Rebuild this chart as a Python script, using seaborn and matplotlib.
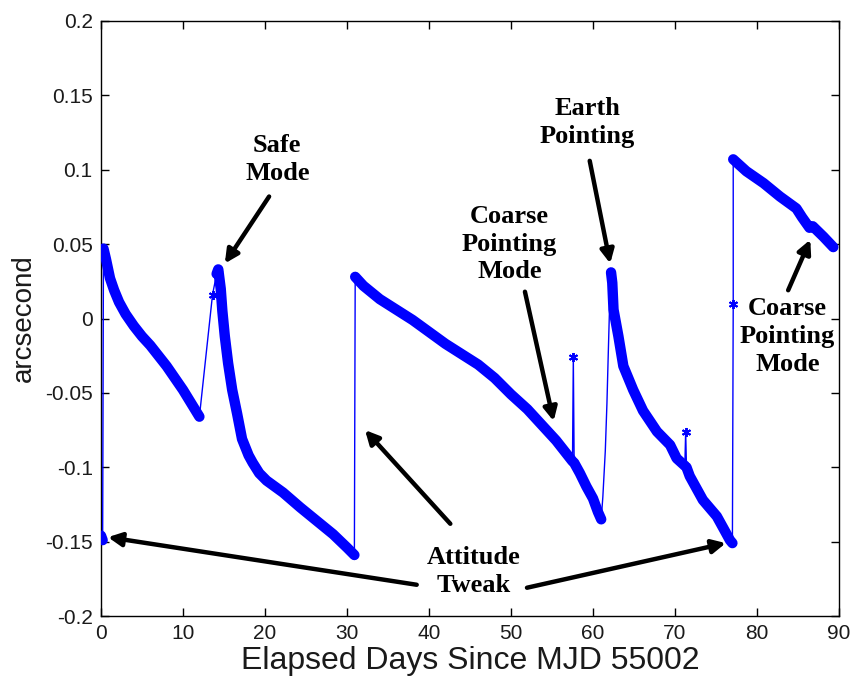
import numpy as np
import pandas as pd
import matplotlib
matplotlib.use("Agg")
import matplotlib.pyplot as plt
import seaborn as sns

# ---- data (elapsed days, arcsecond) ----
days = [0.0, 0.2,
        0.3, 0.6, 1.1, 1.6, 2.2, 3.0, 4.0, 5.0, 6.0, 7.0, 8.0, 9.0, 10.0, 11.0, 12.0,
        13.6,
        14.1, 14.3, 14.6, 14.8, 15.1, 15.5, 16.0, 16.6, 17.2, 18.0, 18.5, 19.3, 20.2,
        22.2, 24.3, 26.3, 28.3, 30.0, 30.9,
        31.0, 32.0, 34.0, 36.0, 38.0, 40.0, 42.0, 44.0, 46.0, 48.0, 50.0, 52.0, 54.0,
        55.5, 57.5,
        57.6,
        57.7, 58.4, 59.2, 60.0, 60.6, 61.0,
        61.2, 61.5, 61.7, 61.85, 62.0,
        62.2, 62.35, 62.5, 63.1, 63.7, 64.9, 66.1, 67.8, 69.4, 70.2, 71.2,
        71.3,
        71.4, 71.8, 73.4, 75.1, 76.0, 76.7, 77.0,
        77.1,
        77.1, 78.7, 80.8, 82.8, 84.8, 85.5, 86.4, 86.8, 88.1, 89.3]
arcsec = [-0.146, -0.149,
          0.047, 0.040, 0.027, 0.019, 0.011, 0.003, -0.005, -0.012, -0.018, -0.025,
          -0.032, -0.040, -0.048, -0.057, -0.066,
          0.016,
          0.030, 0.033, 0.020, 0.005, -0.012, -0.030, -0.048, -0.064, -0.081, -0.092,
          -0.097, -0.104, -0.109, -0.117, -0.127, -0.136, -0.145, -0.154, -0.159,
          0.028, 0.022, 0.013, 0.006, -0.001, -0.009, -0.017, -0.024, -0.031, -0.040,
          -0.051, -0.061, -0.073, -0.082, -0.096,
          -0.026,
          -0.097, -0.104, -0.113, -0.121, -0.130, -0.135,
          -0.120, -0.089, -0.057, -0.026, 0.004,
          0.031, 0.024, 0.006, -0.012, -0.032, -0.048, -0.062, -0.076, -0.085, -0.094,
          -0.099,
          -0.076,
          -0.100, -0.106, -0.122, -0.133, -0.142, -0.149, -0.151,
          0.0096,
          0.107, 0.099, 0.091, 0.082, 0.074, 0.068, 0.061, 0.062, 0.055, 0.048]
# run of consecutive dense samples each point belongs to (None = isolated sample)
run = ([0] * 2 + [1] * 15 + [None] + [2] * 19 + [3] * 15 + [None] + [4] * 6
       + [None] * 5 + [5] * 11 + [None] + [6] * 7 + [None] + [7] * 10)

x_ticks = [0, 10, 20, 30, 40, 50, 60, 70, 80, 90]
x_tick_labels = ["0", "10", "20", "30", "40", "50", "60", "70", "80", "90"]
y_ticks = [-0.2, -0.15, -0.1, -0.05, 0, 0.05, 0.1, 0.15, 0.2]
y_tick_labels = ["-0.2", "-0.15", "-0.1", "-0.05", "0", "0.05", "0.1", "0.15", "0.2"]

x_label = "Elapsed Days Since MJD 55002"
y_label = "arcsecond"

# annotations: text, text centre, arrows (tail -> head) in data units
notes = ["Safe\nMode", "Attitude\nTweak", "Coarse\nPointing\nMode",
         "Earth\nPointing", "Coarse\nPointing\nMode"]
note_xy = [(21.5, 0.107), (45.5, -0.170), (49.8, 0.050), (59.3, 0.132), (83.7, -0.012)]
arrow_tail = [(20.5, 0.082), (38.5, -0.179), (42.6, -0.138), (51.95, -0.181),
              (51.7, 0.018), (59.6, 0.106), (83.8, 0.019)]
arrow_head = [(15.1, 0.037), (0.85, -0.147), (32.2, -0.075), (76.2, -0.151),
              (55.2, -0.069), (62.1, 0.037), (86.5, 0.053)]

df = pd.DataFrame({"day": days, "arcsec": arcsec, "run": run})

# isolated samples that stand alone get a visible asterisk marker
iso = df["run"].isna()
lone = iso & ~iso.shift(1, fill_value=False) & ~iso.shift(-1, fill_value=False)
lone_idx = list(np.flatnonzero(lone.to_numpy()))

sns.set_style("ticks")
plt.rcParams["font.family"] = ["Liberation Sans", "DejaVu Sans"]
plt.rcParams["axes.unicode_minus"] = False

fig = plt.figure(figsize=(8.56, 6.84), dpi=100)
ax = fig.add_axes([101 / 856, 1 - 616 / 684, 738 / 856, 595 / 684])

# thin connecting line through every sample
sns.lineplot(data=df, x="day", y="arcsec", sort=False, estimator=None, ax=ax,
             color="#0000ff", lw=1.0, marker=(6, 2, 0), markersize=6.5,
             markevery=lone_idx, mec="#0000ff", mew=1.4, zorder=3)
# dense runs of samples drawn as a thick band
dense = df.dropna(subset=["run"])
sns.lineplot(data=dense, x="day", y="arcsec", units="run", sort=False,
             estimator=None, ax=ax, color="#0000ff", lw=7.5,
             solid_capstyle="round", solid_joinstyle="round", zorder=4)

ax.set_xlim(0, 90)
ax.set_ylim(-0.2, 0.2)
ax.set_xticks(x_ticks)
ax.set_xticklabels(x_tick_labels)
ax.set_yticks(y_ticks)
ax.set_yticklabels(y_tick_labels)
ax.tick_params(direction="in", length=6, width=1, labelsize=15, pad=6,
               top=True, right=True, colors="black", labelcolor="#1a1a1a")
for s in ax.spines.values():
    s.set_visible(True)
    s.set_color("black")
    s.set_linewidth(1.0)
ax.set_xlabel(x_label, fontsize=23, color="#1a1a1a", labelpad=2)
ax.set_ylabel(y_label, fontsize=20, color="#1a1a1a", labelpad=6)

for t, (x, y) in zip(notes, note_xy):
    ax.text(x, y, t, ha="center", va="center", fontsize=19, fontweight="bold",
            color="black", family=["Liberation Serif", "DejaVu Serif"],
            linespacing=1.27, zorder=6)
for (x0, y0), (x1, y1) in zip(arrow_tail, arrow_head):
    ax.annotate("", xy=(x1, y1), xytext=(x0, y0),
                arrowprops=dict(arrowstyle="-|>,head_length=0.8,head_width=0.4",
                                lw=3.2, color="black", shrinkA=0, shrinkB=0),
                zorder=6)

fig.savefig("out.png", dpi=100)
